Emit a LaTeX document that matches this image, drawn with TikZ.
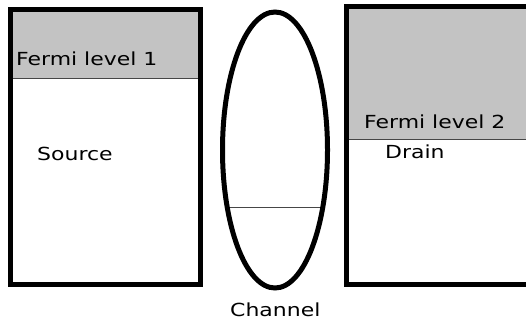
\documentclass[tikz,border=0pt]{standalone}
\usepackage{fontspec}
\setmainfont{DejaVu Sans}[FakeStretch=1.22]
\definecolor{fermigray}{RGB}{195,195,195}
\definecolor{thinline}{RGB}{70,70,70}
\tikzset{
  thickedge/.style={draw=black, line width=5pt},
  levelline/.style={draw=thinline, line width=1pt},
  lbl/.style={anchor=base west, inner sep=0pt, font=\fontsize{18pt}{20pt}\selectfont}
}
\begin{document}
\begin{tikzpicture}[x=1pt,y=-1pt]
\useasboundingbox (0,0) rectangle (526,321);
\clip (0,0) rectangle (526,321);
% source box
\fill[fermigray] (10.5,9.5) rectangle (200,78);
\draw[levelline] (10.5,78) -- (200,78);
\draw[thickedge] (10.5,9.5) rectangle (200,284);
% drain box
\fill[fermigray] (346,7) rectangle (535,139);
\draw[levelline] (346,139) -- (535,139);
\draw[thickedge] (346,7) rectangle (535,284);
% channel
\draw[levelline] (229.5,207) -- (320.5,207);
\draw[thickedge] (275,150) ellipse [x radius=52.5, y radius=138];
% labels
\node[lbl] (f1) at (16,65) {Fermi level 1};
\node[lbl] (src) at (37,160) {Source};
\node[lbl] (f2) at (364,128) {Fermi level 2};
\node[lbl] (drn) at (385,158) {Drain};
\node[lbl] (ch) at (230,316) {Channel};
\end{tikzpicture}
\end{document}
